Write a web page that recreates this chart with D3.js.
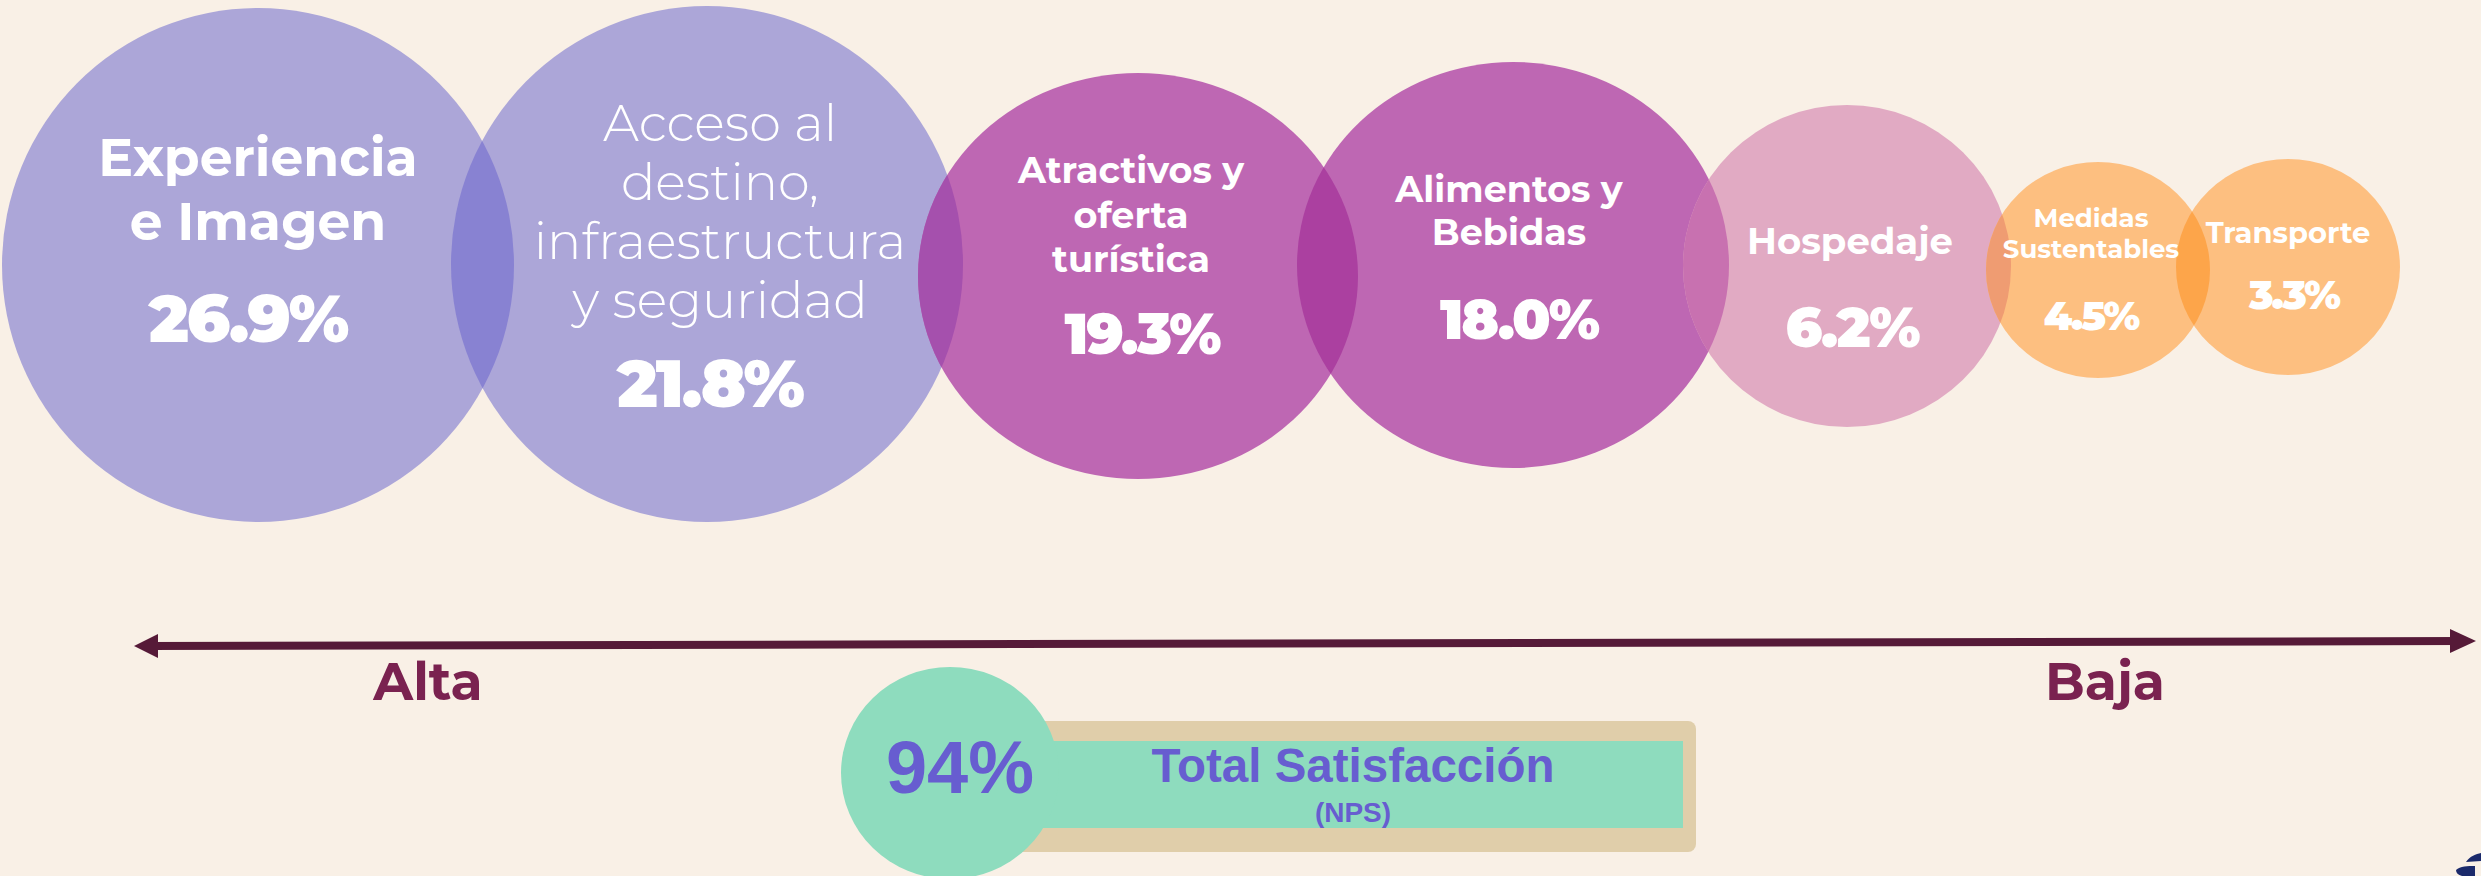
<!DOCTYPE html>
<html>
<head>
<meta charset="utf-8">
<script src="https://cdn.jsdelivr.net/npm/d3@7"></script>
<style>
  html, body { margin: 0; padding: 0; background: #F9F0E6; }
  svg { display: block; }
</style>
</head>
<body>
<script>
// ---------------- DATA ----------------
const categories = [
  ["Experiencia", "e Imagen"],
  ["Acceso al", "destino,", "infraestructura", "y seguridad"],
  ["Atractivos y", "oferta", "turística"],
  ["Alimentos y", "Bebidas"],
  ["Hospedaje"],
  ["Medidas", "Sustentables"],
  ["Transporte"]
];
const values = [26.9, 21.8, 19.3, 18.0, 6.2, 4.5, 3.3];
const groups = ["lav", "lav", "pur", "pur", "pink", "org", "org"];
const axisLabels = ["Alta", "Baja"];
const totalValue = 94;
const totalLabel = "Total Satisfacción";
const totalSub = "(NPS)";

// ---------------- LAYOUT (positions / sizes / styles) ----------------
const W = 2481, H = 876;
const bubbleGeom = [
  { cx: 258,  cy: 265, rx: 256, ry: 257 },
  { cx: 707,  cy: 264, rx: 256, ry: 258 },
  { cx: 1138, cy: 276, rx: 220, ry: 203 },
  { cx: 1513, cy: 265, rx: 216, ry: 203 },
  { cx: 1847, cy: 266, rx: 164, ry: 161 },
  { cx: 2098, cy: 270, rx: 112, ry: 108 },
  { cx: 2288, cy: 267, rx: 112, ry: 108 }
];
// label placement relative to bubble centre
const labelStyle = [
  { dx: 0,  dy0: -89,  lh: 64, fs: 52, fw: 700, ndx: -10, ndy: 77,  nfs: 66 },
  { dx: 13, dy0: -123, lh: 59, fs: 51, fw: 300, ndx: 3,  ndy: 143, nfs: 67 },
  { dx: -7, dy0: -93,  lh: 44.5, fs: 36.5, fw: 700, ndx: 4, ndy: 78, nfs: 57 },
  { dx: -4, dy0: -63,  lh: 43, fs: 36.5, fw: 700, ndx: 6,  ndy: 74,  nfs: 56 },
  { dx: 3,  dy0: -12,  lh: 40, fs: 37, fw: 700, ndx: 5,  ndy: 81,  nfs: 56 },
  { dx: -7, dy0: -43,  lh: 31, fs: 26, fw: 700, ndx: -7, ndy: 60,  nfs: 40 },
  { dx: 0,  dy0: -24,  lh: 30, fs: 29, fw: 700, ndx: 6,  ndy: 42,  nfs: 40 }
];

const color = d3.scaleOrdinal()
  .domain(["lav", "pur", "pink", "org"])
  .range(["#ACA6D8", "#BE67B3", "#E1AAC3", "#FDBF80"]);
const overlapColor = {
  "lav|lav": "#8882D2",
  "lav|pur": "#A550AD",
  "pur|pur": "#AB40A0",
  "pur|pink": "#C871B0",
  "pink|org": "#EF9C72",
  "org|org": "#FDA54A"
};
const fmt = d => d3.format(".1f")(d) + "%";

const svg = d3.select("body").append("svg")
  .attr("width", W).attr("height", H)
  .attr("viewBox", `0 0 ${W} ${H}`);

svg.append("rect").attr("width", W).attr("height", H).attr("fill", "#F9F0E6");

const bubbles = values.map((v, i) => ({
  value: v, lines: categories[i], group: groups[i], ...bubbleGeom[i], st: labelStyle[i], i
}));

// clip paths for overlaps
const defs = svg.append("defs");
defs.selectAll("clipPath").data(bubbles).join("clipPath")
  .attr("id", d => "clip" + d.i)
  .append("ellipse")
  .attr("cx", d => d.cx).attr("cy", d => d.cy)
  .attr("rx", d => d.rx).attr("ry", d => d.ry);

const gB = svg.append("g");
gB.selectAll("ellipse.base").data(bubbles).join("ellipse")
  .attr("class", "base")
  .attr("cx", d => d.cx).attr("cy", d => d.cy)
  .attr("rx", d => d.rx).attr("ry", d => d.ry)
  .attr("fill", d => color(d.group));

gB.selectAll("ellipse.ov").data(bubbles.slice(1)).join("ellipse")
  .attr("class", "ov")
  .attr("cx", d => d.cx).attr("cy", d => d.cy)
  .attr("rx", d => d.rx).attr("ry", d => d.ry)
  .attr("clip-path", d => `url(#clip${d.i - 1})`)
  .attr("fill", d => overlapColor[bubbles[d.i - 1].group + "|" + d.group]);

// labels
const fontMain = "Montserrat, Inter, 'Open Sans', sans-serif";
const gL = svg.append("g").attr("fill", "#fff").attr("text-anchor", "middle");
bubbles.forEach(d => {
  const t = gL.append("text")
    .attr("font-family", fontMain)
    .attr("font-size", d.st.fs)
    .attr("font-weight", d.st.fw);
  d.lines.forEach((ln, k) => {
    t.append("tspan")
      .attr("x", d.cx + d.st.dx)
      .attr("y", d.cy + d.st.dy0 + k * d.st.lh)
      .text(ln);
  });
  gL.append("text")
    .attr("x", d.cx + d.st.ndx)
    .attr("y", d.cy + d.st.ndy)
    .attr("font-family", fontMain)
    .attr("font-size", d.st.nfs)
    .attr("font-weight", 900)
    .attr("letter-spacing", -2)
    .text(fmt(d.value));
});

// ---------------- Arrow axis ----------------
const xAxis = d3.scalePoint().domain(axisLabels).range([428, 2105]);
const arrowColor = "#561A38";
const ax0 = 134, ax1 = 2476, ay0 = 646, ay1 = 641;
svg.append("line")
  .attr("x1", ax0 + 14).attr("y1", ay0)
  .attr("x2", ax1 - 14).attr("y2", ay1)
  .attr("stroke", arrowColor).attr("stroke-width", 8);
svg.append("path")
  .attr("d", `M${ax0},${ay0} L${ax0 + 24},${ay0 - 12} L${ax0 + 24},${ay0 + 12} Z`)
  .attr("fill", arrowColor);
svg.append("path")
  .attr("d", `M${ax1},${ay1} L${ax1 - 26},${ay1 - 12} L${ax1 - 26},${ay1 + 12} Z`)
  .attr("fill", arrowColor);
svg.selectAll("text.axl").data(axisLabels).join("text")
  .attr("class", "axl")
  .attr("x", d => xAxis(d)).attr("y", 700)
  .attr("text-anchor", "middle")
  .attr("font-family", fontMain).attr("font-weight", 700)
  .attr("font-size", 52).attr("fill", "#7A2250")
  .text(d => d);

// ---------------- Total satisfaction badge ----------------
svg.append("rect")
  .attr("x", 960).attr("y", 721).attr("width", 736).attr("height", 131)
  .attr("rx", 8).attr("fill", "#E0CEAA");
svg.append("rect")
  .attr("x", 960).attr("y", 741).attr("width", 723).attr("height", 87)
  .attr("fill", "#8EDCBE");
svg.append("ellipse")
  .attr("cx", 950).attr("cy", 773).attr("rx", 109).attr("ry", 106)
  .attr("fill", "#8EDCBE");
const fontArial = "'Liberation Sans', Arial, sans-serif";
svg.append("text")
  .attr("x", 960).attr("y", 793).attr("text-anchor", "middle")
  .attr("font-family", fontArial).attr("font-weight", 700)
  .attr("font-size", 74).attr("fill", "#675DD0")
  .text(totalValue + "%");
svg.append("text")
  .attr("x", 1353).attr("y", 782).attr("text-anchor", "middle")
  .attr("font-family", fontArial).attr("font-weight", 700)
  .attr("font-size", 47.5).attr("fill", "#675DD0")
  .text(totalLabel);
svg.append("text")
  .attr("x", 1353).attr("y", 822).attr("text-anchor", "middle")
  .attr("font-family", fontArial).attr("font-weight", 700)
  .attr("font-size", 28).attr("fill", "#675DD0")
  .text(totalSub);

// corner logo fragment
svg.append("path")
  .attr("d", "M2466,862 C2470,856 2476,854 2481,853 L2481,861 Z M2456,870 C2460,866 2468,866 2475,866 L2475,876 L2462,876 C2458,875 2456,873 2456,870 Z")
  .attr("fill", "#1B2A6B");
</script>
</body>
</html>
